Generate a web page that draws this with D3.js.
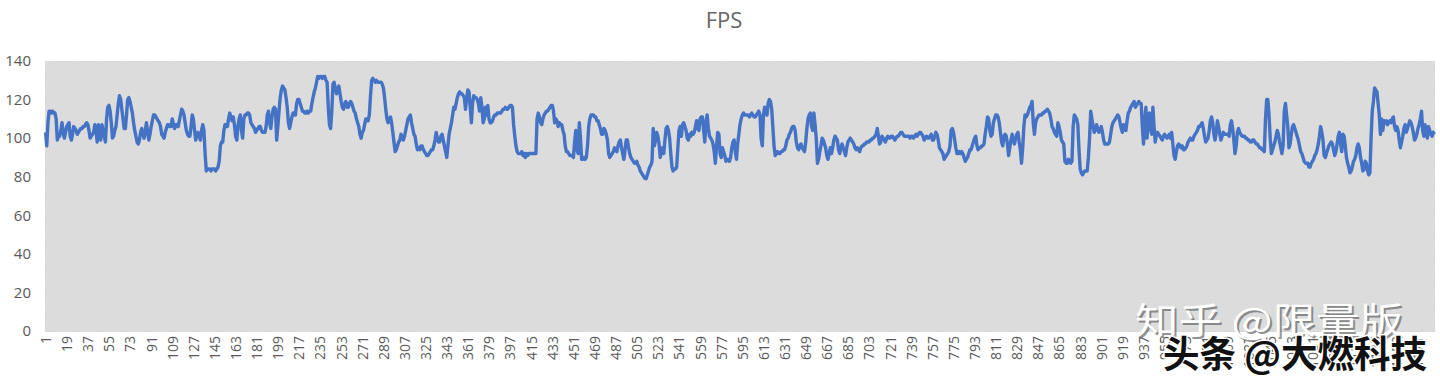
<!DOCTYPE html>
<html>
<head>
<meta charset="utf-8">
<script src="https://cdn.jsdelivr.net/npm/d3@7"></script>
<style>
 body { margin: 0; background: #fff; }
 svg { display: block; font-family: "Open Sans", "Noto Sans", sans-serif; }
</style>
</head>
<body>
<div id="chart"></div>
<script>
const title = "FPS";
const yTicks = [0, 20, 40, 60, 80, 100, 120, 140];
const labelStep = 18;
// one FPS sample per frame
const fps = [
 103, 96, 108, 114, 114, 113, 114, 113, 113, 110,
 99, 101, 101, 104, 108, 103, 100, 103, 106, 107,
 108, 101, 99, 102, 106, 105, 104, 102, 103, 104,
 105, 105, 106, 106, 107, 108, 107, 104, 100, 101,
 102, 103, 107, 104, 98, 107, 101, 99, 107, 104,
 101, 98, 110, 116, 117, 114, 108, 100, 101, 104,
 106, 112, 118, 122, 120, 115, 110, 105, 105, 112,
 120, 121, 119, 116, 113, 108, 104, 101, 98, 97,
 99, 103, 105, 102, 100, 104, 108, 103, 99, 102,
 106, 109, 112, 112, 111, 110, 109, 108, 106, 102,
 101, 100, 103, 105, 107, 107, 106, 106, 110, 107,
 105, 107, 107, 106, 109, 112, 115, 114, 112, 108,
 104, 102, 101, 101, 106, 112, 110, 104, 99, 102,
 103, 101, 99, 104, 107, 104, 92, 83, 84, 84,
 84, 83, 84, 84, 84, 83, 84, 85, 88, 96,
 98, 98, 104, 107, 107, 106, 110, 113, 111, 109,
 111, 107, 101, 99, 106, 110, 112, 104, 100, 110,
 112, 112, 113, 113, 112, 108, 107, 106, 105, 103,
 104, 105, 106, 106, 104, 103, 103, 103, 106, 112,
 114, 108, 105, 111, 115, 116, 115, 99, 106, 114,
 121, 125, 127, 126, 125, 121, 116, 108, 105, 108,
 111, 113, 113, 112, 118, 120, 120, 118, 116, 114,
 114, 113, 113, 114, 113, 114, 114, 118, 121, 124,
 126, 129, 132, 131, 132, 132, 131, 132, 132, 130,
 129, 116, 107, 105, 114, 128, 129, 126, 123, 125,
 127, 123, 119, 116, 115, 118, 119, 116, 116, 118,
 119, 118, 116, 114, 113, 110, 108, 106, 102, 100,
 103, 104, 107, 110, 110, 109, 112, 122, 130, 131,
 130, 129, 130, 129, 129, 129, 129, 128, 126, 121,
 115, 110, 108, 110, 111, 108, 103, 98, 93, 94,
 96, 98, 99, 102, 100, 99, 101, 104, 107, 110,
 111, 112, 108, 105, 102, 101, 97, 94, 95, 94,
 96, 96, 94, 93, 92, 91, 91, 92, 93, 94,
 94, 96, 99, 103, 100, 98, 98, 101, 102, 99,
 96, 93, 90, 96, 102, 105, 108, 112, 116, 115,
 118, 121, 123, 124, 123, 123, 122, 121, 115, 121,
 125, 124, 116, 108, 118, 122, 121, 121, 120, 118,
 114, 121, 116, 108, 110, 116, 112, 117, 110, 108,
 108, 109, 111, 112, 112, 113, 113, 113, 113, 114,
 115, 115, 116, 115, 115, 116, 117, 117, 116, 107,
 101, 96, 93, 92, 92, 92, 93, 91, 92, 90,
 92, 91, 92, 92, 92, 92, 92, 92, 92, 110,
 113, 111, 108, 107, 110, 112, 113, 114, 114, 115,
 116, 117, 117, 114, 108, 110, 109, 106, 108, 107,
 107, 104, 102, 96, 93, 93, 92, 91, 91, 91,
 90, 98, 104, 94, 92, 108, 100, 89, 89, 90,
 89, 90, 96, 106, 110, 112, 112, 112, 111, 111,
 109, 109, 107, 105, 102, 102, 105, 104, 102, 99,
 92, 90, 91, 92, 93, 95, 94, 93, 96, 98,
 99, 95, 92, 89, 94, 99, 99, 95, 92, 90,
 89, 88, 87, 87, 88, 86, 85, 83, 82, 81,
 80, 79, 79, 81, 83, 85, 86, 88, 105, 96,
 99, 103, 101, 97, 90, 93, 95, 92, 99, 105,
 106, 104, 100, 92, 85, 83, 84, 84, 85, 95,
 104, 106, 101, 107, 108, 106, 104, 100, 99, 102,
 101, 103, 102, 103, 106, 109, 105, 104, 110, 111,
 111, 104, 98, 108, 112, 105, 101, 100, 99, 97,
 93, 87, 96, 103, 102, 92, 90, 95, 93, 91,
 88, 89, 89, 88, 90, 95, 98, 99, 93, 89,
 97, 102, 107, 110, 112, 113, 112, 112, 112, 112,
 111, 112, 113, 112, 111, 111, 112, 113, 114, 112,
 100, 96, 112, 116, 113, 112, 118, 120, 119, 115,
 106, 96, 91, 92, 93, 92, 92, 93, 93, 94,
 94, 96, 99, 100, 102, 103, 105, 106, 106, 104,
 98, 95, 94, 96, 97, 95, 94, 93, 98, 105,
 110, 112, 113, 106, 104, 113, 107, 100, 87, 89,
 93, 96, 100, 99, 97, 95, 91, 89, 92, 95,
 92, 95, 99, 101, 100, 99, 94, 92, 95, 97,
 95, 93, 91, 95, 98, 99, 100, 99, 98, 97,
 95, 94, 95, 94, 93, 95, 96, 96, 97, 97,
 98, 98, 98, 99, 99, 100, 100, 101, 102, 105,
 101, 97, 98, 101, 100, 99, 98, 100, 101, 100,
 100, 101, 101, 100, 99, 100, 101, 101, 102, 103,
 103, 102, 101, 101, 101, 101, 101, 100, 101, 101,
 100, 101, 102, 101, 102, 103, 103, 102, 101, 99,
 100, 101, 100, 100, 101, 102, 99, 99, 101, 103,
 102, 99, 95, 94, 93, 92, 89, 90, 91, 92,
 93, 96, 104, 105, 103, 99, 95, 92, 92, 93,
 92, 93, 92, 90, 88, 89, 90, 92, 94, 94,
 96, 98, 100, 101, 96, 94, 95, 95, 96, 96,
 97, 102, 106, 111, 110, 104, 101, 102, 108, 110,
 112, 112, 111, 108, 103, 98, 96, 101, 102, 101,
 97, 91, 95, 99, 102, 99, 97, 100, 102, 103,
 98, 94, 87, 95, 106, 112, 111, 112, 114, 116,
 117, 119, 108, 102, 108, 110, 111, 112, 112, 112,
 113, 113, 114, 114, 115, 114, 113, 110, 106, 105,
 103, 102, 101, 108, 106, 103, 99, 98, 97, 88,
 87, 87, 89, 88, 87, 88, 106, 112, 111, 110,
 107, 94, 84, 82, 81, 82, 83, 83, 83, 90,
 100, 114, 110, 106, 103, 104, 107, 105, 103, 104,
 106, 103, 99, 97, 97, 97, 97, 98, 102, 106,
 108, 109, 110, 111, 112, 111, 108, 105, 103, 107,
 106, 104, 109, 113, 114, 116, 117, 118, 119, 116,
 117, 118, 119, 118, 118, 106, 97, 108, 116, 100,
 108, 113, 105, 102, 116, 106, 98, 102, 103, 102,
 101, 100, 99, 101, 102, 101, 100, 101, 102, 100,
 103, 97, 91, 89, 93, 96, 97, 96, 95, 96,
 94, 94, 95, 96, 98, 99, 100, 99, 99, 101,
 102, 103, 104, 106, 106, 107, 108, 105, 101, 98,
 99, 100, 104, 109, 111, 108, 102, 99, 103, 109,
 106, 102, 99, 101, 103, 102, 102, 102, 102, 101,
 107, 109, 105, 99, 92, 96, 103, 105, 103, 102,
 101, 101, 101, 100, 100, 99, 99, 98, 98, 99,
 99, 98, 97, 97, 96, 95, 95, 94, 94, 93,
 110, 120, 120, 112, 100, 92, 94, 96, 98, 101,
 104, 102, 98, 95, 92, 96, 114, 118, 112, 106,
 95, 97, 102, 106, 107, 105, 103, 101, 99, 96,
 93, 92, 90, 88, 87, 87, 87, 85, 85, 87,
 88, 89, 91, 92, 94, 97, 101, 106, 103, 99,
 91, 90, 92, 94, 96, 97, 98, 97, 94, 91,
 93, 97, 101, 103, 97, 93, 102, 101, 96, 90,
 87, 85, 82, 83, 85, 88, 89, 91, 95, 97,
 95, 90, 87, 83, 84, 88, 87, 83, 81, 82,
 100, 114, 119, 126, 125, 124, 118, 112, 102, 110,
 104, 109, 108, 109, 107, 108, 109, 108, 110, 111,
 106, 104, 106, 104, 99, 95, 98, 101, 105, 107,
 103, 105, 107, 109, 108, 106, 103, 99, 100, 102,
 105, 107, 110, 114, 104, 101, 107, 103, 100, 106,
 104, 102, 101, 103, 102
];
const frames = fps.map((d, i) => i + 1);
const watermarks = ["知乎 @限量版", "头条 @大燃科技"];

(function () {
 const margin = { top: 61, right: 5, bottom: 54, left: 45 };
 const width = 1440;
 const height = 385;
 const innerW = width - margin.left - margin.right;
 const innerH = height - margin.top - margin.bottom;

 const svg = d3
  .select("#chart")
  .append("svg")
  .attr("width", width)
  .attr("height", height);

 // light diagonal hatch like the excel plot area fill
 const pat = svg
  .append("defs")
  .append("pattern")
  .attr("id", "hatch")
  .attr("patternUnits", "userSpaceOnUse")
  .attr("width", 3)
  .attr("height", 3);
 pat.append("rect").attr("width", 3).attr("height", 3).attr("fill", "#d9d9d9");
 pat
  .append("path")
  .attr("d", "M-1,-1 l5,5")
  .attr("stroke", "#e4e4e4")
  .attr("stroke-width", 0.8);

 svg
  .append("text")
  .attr("x", 724)
  .attr("y", 28)
  .attr("text-anchor", "middle")
  .attr("fill", "#666")
  .style("font-size", "22px")
  .text(title);

 const g = svg
  .append("g")
  .attr("transform", `translate(${margin.left},${margin.top})`);

 const x = d3.scalePoint().domain(frames).range([0, innerW]).padding(0.5);
 const y = d3.scaleLinear().domain([0, 140]).range([innerH, 0]);

 g.append("rect")
  .attr("width", innerW)
  .attr("height", innerH)
  .attr("fill", "url(#hatch)");

 const yAxis = g
  .append("g")
  .call(d3.axisLeft(y).tickValues(yTicks).tickSize(0).tickPadding(14));
 yAxis.select(".domain").remove();
 yAxis
  .selectAll("text")
  .attr("fill", "#595959")
  .style("font-size", "15px")
  .style("font-family", "'Open Sans', sans-serif");

 const xAxis = g
  .append("g")
  .attr("transform", `translate(0,${innerH})`)
  .call(
   d3
    .axisBottom(x)
    .tickValues(frames.filter((d) => (d - 1) % labelStep === 0))
    .tickSize(0)
  );
 xAxis.select(".domain").attr("stroke", "#d9d9d9");
 xAxis
  .selectAll("text")
  .attr("transform", "rotate(-90)")
  .attr("text-anchor", "end")
  .attr("x", -5)
  .attr("y", 0)
  .attr("dy", "0.35em")
  .attr("fill", "#595959")
  .style("font-size", "14px")
  .style("font-family", "'Open Sans', sans-serif");

 const line = d3
  .line()
  .x((d, i) => x(frames[i]))
  .y((d) => y(d));

 g.append("path")
  .datum(fps)
  .attr("fill", "none")
  .attr("stroke", "#4472c4")
  .attr("stroke-width", 3.4)
  .attr("stroke-linejoin", "round")
  .attr("d", line);

 // the two watermarks stamped on the screenshot
 const wm = svg.append("g").style("font-family", "'Noto Sans CJK SC', sans-serif");
 wm.append("text")
  .attr("x", 1135)
  .attr("y", 334)
  .attr("textLength", 268)
  .attr("lengthAdjust", "spacingAndGlyphs")
  .attr("fill", "#666")
  .attr("opacity", 0.7)
  .attr("transform", "translate(2,2)")
  .style("font-size", "36px")
  .text(watermarks[0]);
 wm.append("text")
  .attr("x", 1135)
  .attr("y", 334)
  .attr("textLength", 268)
  .attr("lengthAdjust", "spacingAndGlyphs")
  .attr("fill", "#fff")
  .style("font-size", "36px")
  .text(watermarks[0]);
 wm.append("text")
  .attr("x", 1163)
  .attr("y", 368)
  .attr("textLength", 264)
  .attr("lengthAdjust", "spacingAndGlyphs")
  .attr("fill", "#111")
  .attr("stroke", "#fff")
  .attr("stroke-width", 3)
  .attr("paint-order", "stroke")
  .style("font-size", "37px")
  .style("font-weight", "bold")
  .text(watermarks[1]);
})();
</script>
</body>
</html>
